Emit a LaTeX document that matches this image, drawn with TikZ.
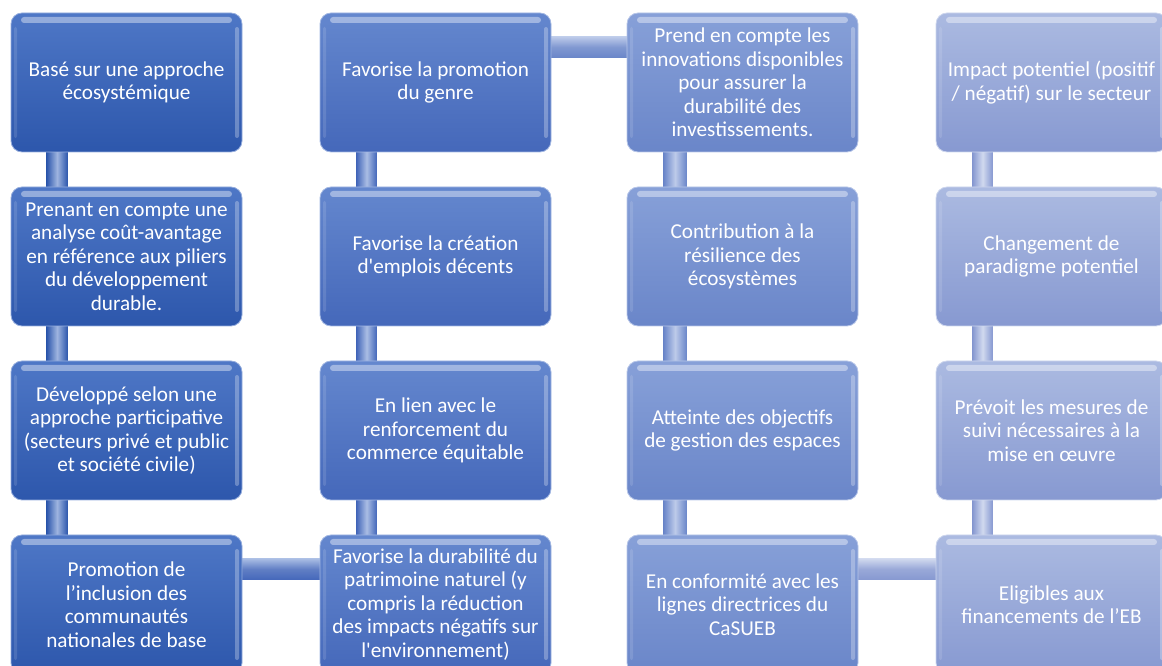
\documentclass[tikz,border=0pt]{standalone}
\usepackage{fontspec}
\setmainfont{Carlito}
\usetikzlibrary{calc}
\definecolor{c1t}{HTML}{4E77C6}\definecolor{c1b}{HTML}{2D57AC}
\definecolor{c2t}{HTML}{6487CE}\definecolor{c2b}{HTML}{4568BA}
\definecolor{c3t}{HTML}{87A0D8}\definecolor{c3b}{HTML}{6A86C9}
\definecolor{c4t}{HTML}{ABBAE1}\definecolor{c4b}{HTML}{8799D1}
\pgfdeclarelayer{background}
\pgfsetlayers{background,main}
\begin{document}
\begin{tikzpicture}[x=1pt,y=1pt,
  box/.style={rectangle, rounded corners=11pt, minimum width=231pt, minimum height=139pt,
    inner sep=2pt, align=center, text=white, font=\fontsize{21.2}{23.5}\selectfont, line width=0.8pt,
    path picture={
      \fill[white,opacity=0.4,rounded corners=3pt]
        ([xshift=10pt,yshift=-4pt]path picture bounding box.north west) rectangle
        ([xshift=-10pt,yshift=-10pt]path picture bounding box.north east);
      \fill[white,opacity=0.28,rounded corners=2pt]
        ([xshift=-7pt,yshift=-14pt]path picture bounding box.north east) rectangle
        ([xshift=-3pt,yshift=14pt]path picture bounding box.south east);
      \fill[white,opacity=0.12,rounded corners=2pt]
        ([xshift=3pt,yshift=-14pt]path picture bounding box.north west) rectangle
        ([xshift=6pt,yshift=14pt]path picture bounding box.south west);
    }},
  b1/.style={box, top color=c1t, bottom color=c1b, draw=c1t!60!white},
  b2/.style={box, top color=c2t, bottom color=c2b, draw=c2t!60!white},
  b3/.style={box, top color=c3t, bottom color=c3b, draw=c3t!60!white},
  b4/.style={box, top color=c4t, bottom color=c4b, draw=c4t!60!white},
  vbar/.style n args={2}{left color=#2, right color=#2, middle color=#1!55!white},
  hbar/.style n args={2}{top color=#1!55!white, bottom color=#2, middle color=#2!85!white},
]
\useasboundingbox (0,0) rectangle (1162,666);

\node[b1] (n11) at (126.5,583.5) {Basé sur une approche\\écosystémique};
\node[b1] (n12) at (126.5,409.5) {Prenant en compte une\\analyse coût-avantage\\en référence aux piliers\\du développement\\durable.};
\node[b1] (n13) at (126.5,235.5) {Développé selon une\\approche participative\\(secteurs privé et public\\et société civile)};
\node[b1] (n14) at (126.5,61.5) {Promotion de\\l’inclusion des\\communautés\\nationales de base};

\node[b2] (n21) at (435.5,583.5) {Favorise la promotion\\du genre};
\node[b2] (n22) at (435.5,409.5) {Favorise la création\\d\textquotesingle emplois décents};
\node[b2] (n23) at (435.5,235.5) {En lien avec le\\renforcement du\\commerce équitable};
\node[b2] (n24) at (435.5,61.5) {Favorise la durabilité du\\patrimoine naturel (y\\compris la réduction\\des impacts négatifs sur\\l\textquotesingle environnement)};

\node[b3] (n31) at (742.5,583.5) {Prend en compte les\\innovations disponibles\\pour assurer la\\durabilité des\\investissements.};
\node[b3] (n32) at (742.5,409.5) {Contribution à la\\résilience des\\écosystèmes};
\node[b3] (n33) at (742.5,235.5) {Atteinte des objectifs\\de gestion des espaces};
\node[b3] (n34) at (742.5,61.5) {En conformité avec les\\lignes directrices du\\CaSUEB};

\node[b4] (n41) at (1051.5,583.5) {Impact potentiel (positif\\/ négatif) sur le secteur};
\node[b4] (n42) at (1051.5,409.5) {Changement de\\paradigme potentiel};
\node[b4] (n43) at (1051.5,235.5) {Prévoit les mesures de\\suivi nécessaires à la\\mise en œuvre};
\node[b4] (n44) at (1051.5,61.5) {Eligibles aux\\financements de l’EB};

\begin{pgfonlayer}{background}
% column 1 verticals
\shade[vbar={c1t}{c1b}] ($(n11.south west)+(36,6)$) rectangle ($(n12.north west)+(57,-6)$);
\shade[vbar={c1t}{c1b}] ($(n12.south west)+(36,6)$) rectangle ($(n13.north west)+(57,-6)$);
\shade[vbar={c1t}{c1b}] ($(n13.south west)+(36,6)$) rectangle ($(n14.north west)+(57,-6)$);
% row 4: col1 -> col2
\shade[hbar={c2t}{c2b}] ($(n14.north east)+(-6,-24)$) rectangle ($(n24.north west)+(6,-45)$);
% column 2 verticals
\shade[vbar={c2t}{c2b}] ($(n24.north west)+(37,-6)$) rectangle ($(n23.south west)+(57,6)$);
\shade[vbar={c2t}{c2b}] ($(n23.north west)+(37,-6)$) rectangle ($(n22.south west)+(57,6)$);
\shade[vbar={c2t}{c2b}] ($(n22.north west)+(37,-6)$) rectangle ($(n21.south west)+(57,6)$);
% row 1: col2 -> col3
\shade[hbar={c3t}{c3b}] ($(n21.north east)+(-6,-24)$) rectangle ($(n31.north west)+(6,-45)$);
% column 3 verticals
\shade[vbar={c3t}{c3b}] ($(n31.south west)+(37,6)$) rectangle ($(n32.north west)+(60,-6)$);
\shade[vbar={c3t}{c3b}] ($(n32.south west)+(37,6)$) rectangle ($(n33.north west)+(60,-6)$);
\shade[vbar={c3t}{c3b}] ($(n33.south west)+(37,6)$) rectangle ($(n34.north west)+(60,-6)$);
% row 4: col3 -> col4
\shade[hbar={c4t}{c4b}] ($(n34.north east)+(-6,-24)$) rectangle ($(n44.north west)+(6,-45)$);
% column 4 verticals
\shade[vbar={c4t}{c4b}] ($(n44.north west)+(37,-6)$) rectangle ($(n43.south west)+(57,6)$);
\shade[vbar={c4t}{c4b}] ($(n43.north west)+(37,-6)$) rectangle ($(n42.south west)+(57,6)$);
\shade[vbar={c4t}{c4b}] ($(n42.north west)+(37,-6)$) rectangle ($(n41.south west)+(57,6)$);
\end{pgfonlayer}
\end{tikzpicture}
\end{document}
